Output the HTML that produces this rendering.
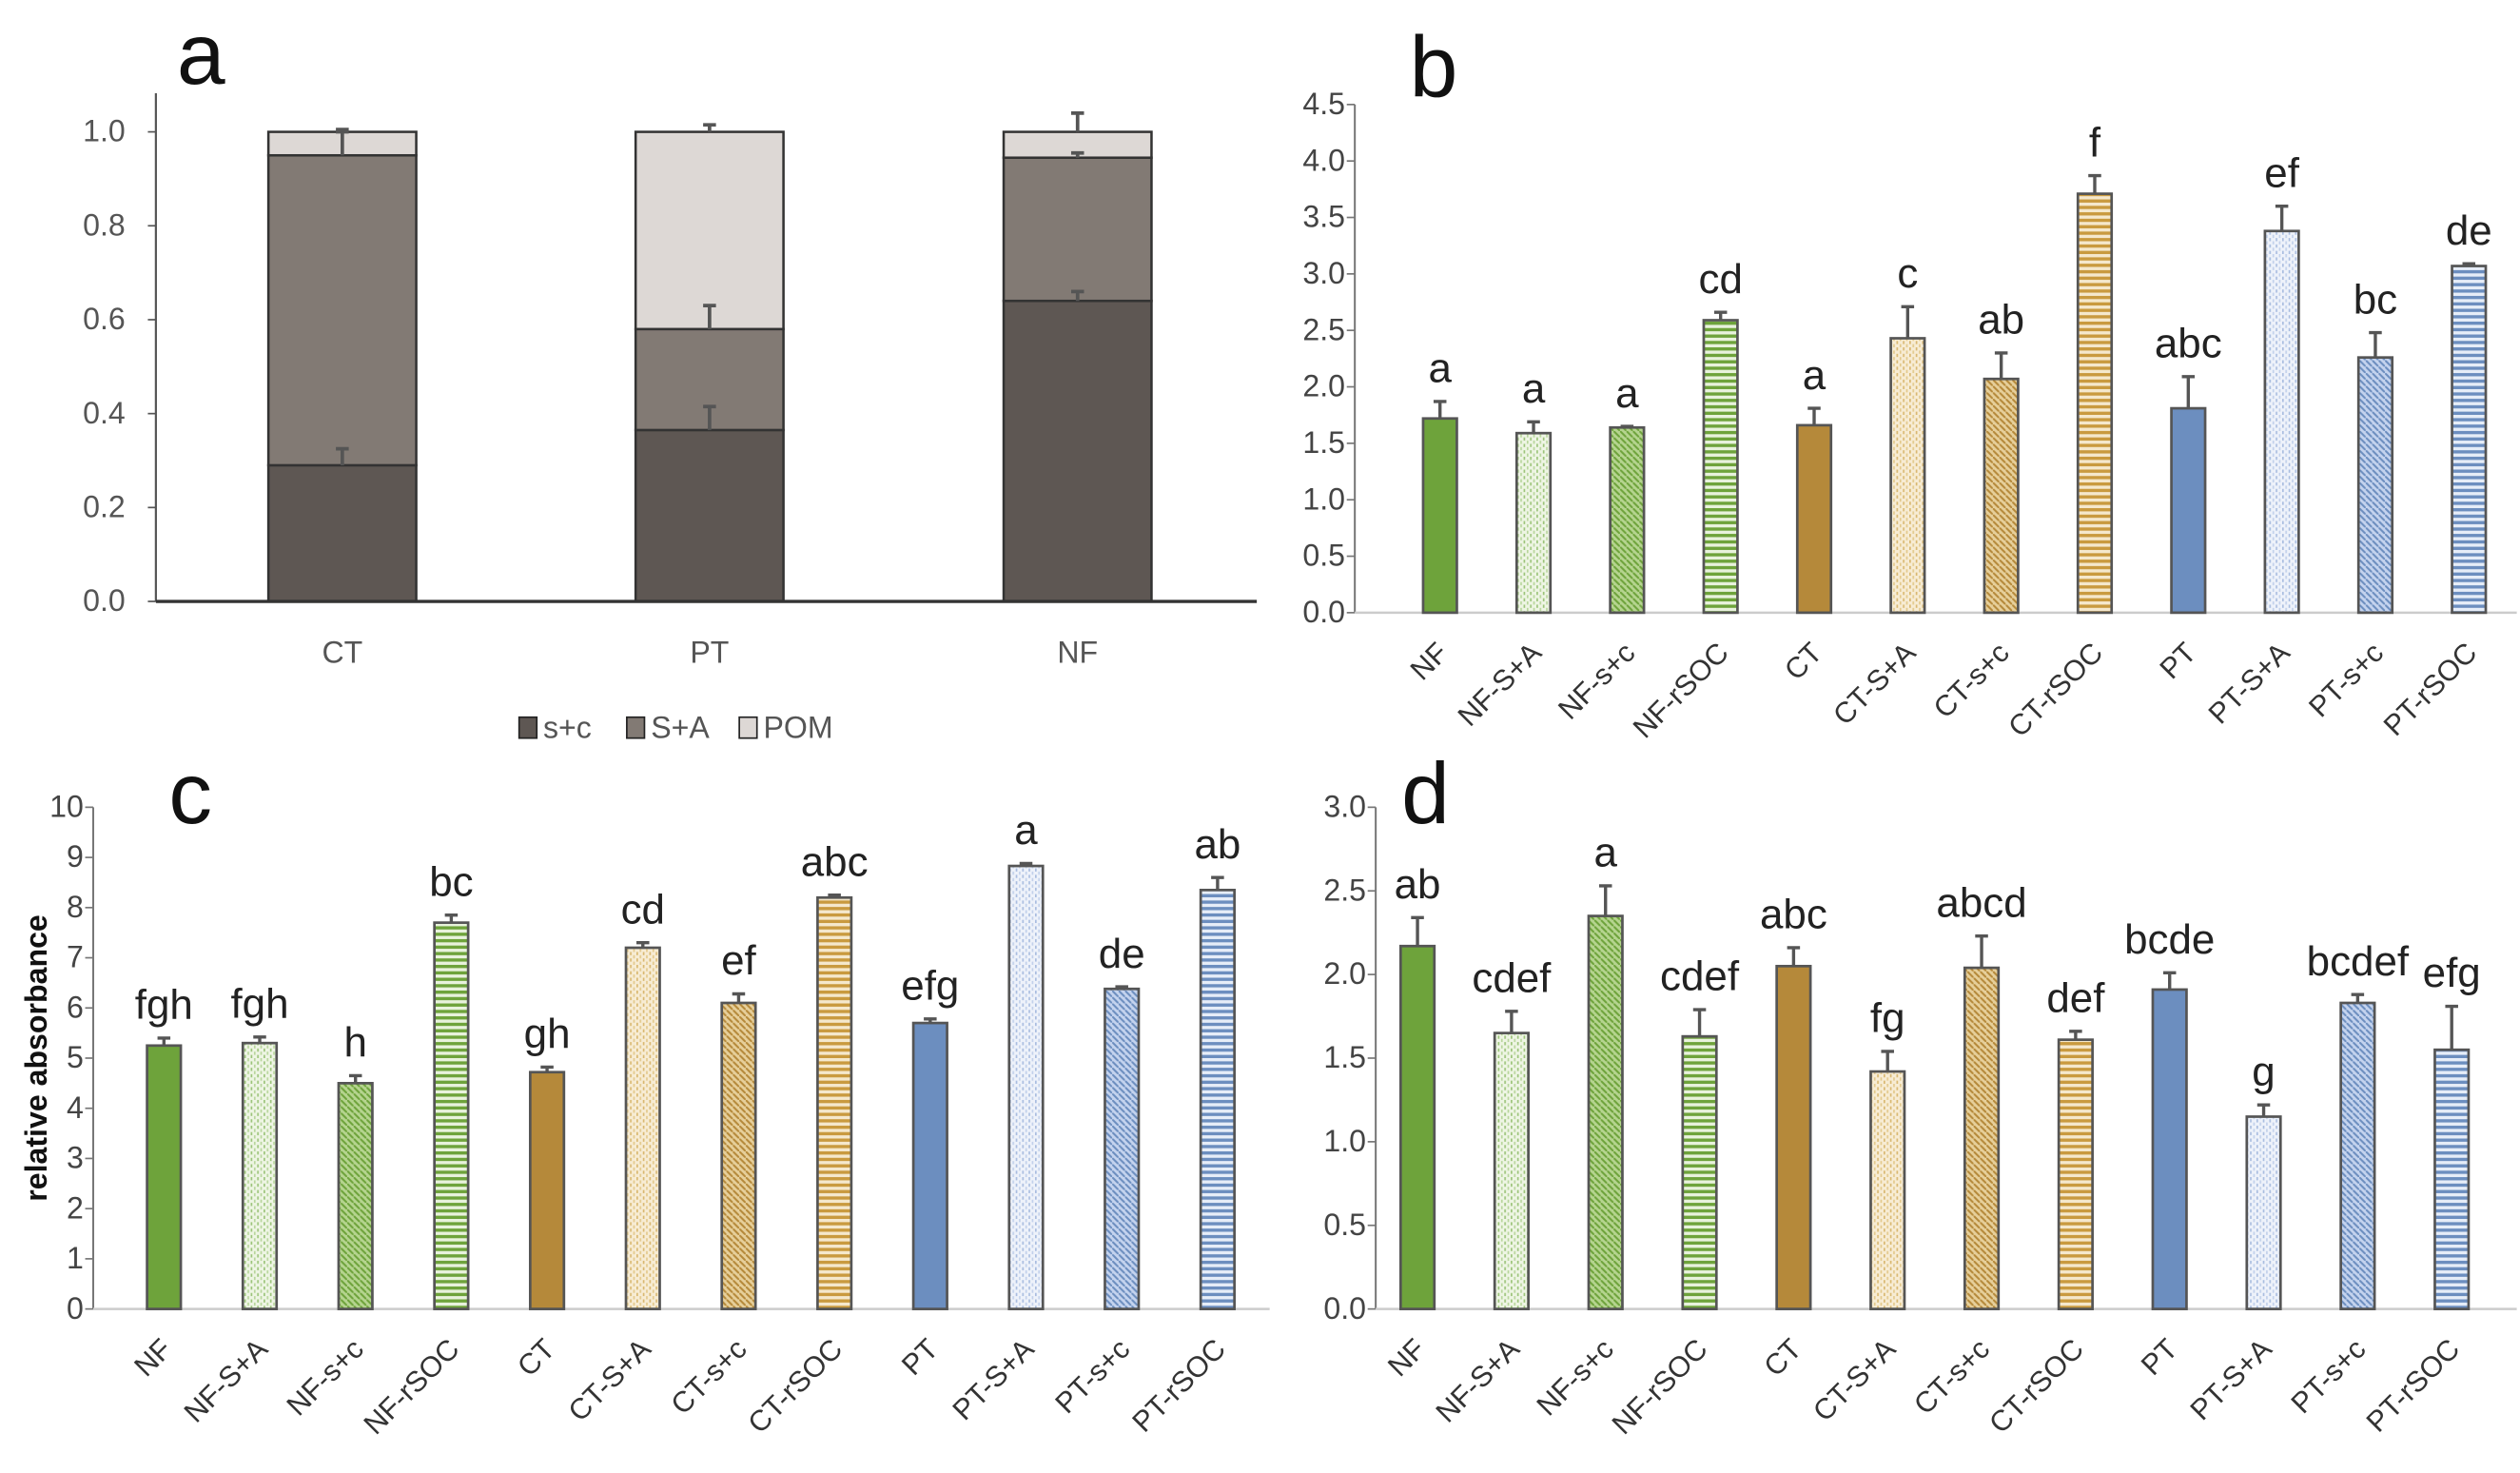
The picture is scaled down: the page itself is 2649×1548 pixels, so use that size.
<!DOCTYPE html>
<html><head><meta charset="utf-8">
<style>
html,body{margin:0;padding:0;background:#fff;}
svg{display:block;}
text{font-family:"Liberation Sans",sans-serif;}
</style></head>
<body>
<svg id="fig" width="2649" height="1548" viewBox="0 0 1568 916" preserveAspectRatio="none" xmlns="http://www.w3.org/2000/svg">
<defs>
 <pattern id="pNFsa" width="4" height="4" patternUnits="userSpaceOnUse"><rect width="4" height="4" fill="#eef5e4"/><rect x="0" y="0" width="1" height="2" fill="#9cc47a"/><rect x="2" y="2" width="1" height="2" fill="#b8d69c"/></pattern>
 <pattern id="pNFsc" width="4" height="4" patternUnits="userSpaceOnUse"><rect width="4" height="4" fill="#b5d48f"/><path d="M0 0L4 4" stroke="#6ea33b" stroke-width="1.2"/></pattern>
 <pattern id="pNFr" width="4" height="4" patternUnits="userSpaceOnUse"><rect width="4" height="4" fill="#e8f2dc"/><rect y="0" width="4" height="2" fill="#6ea33b"/></pattern>
 <pattern id="pCTsa" width="4" height="4" patternUnits="userSpaceOnUse"><rect width="4" height="4" fill="#f7ecd4"/><rect x="0" y="0" width="1" height="2" fill="#d9b871"/><rect x="2" y="2" width="1" height="2" fill="#e3c98c"/></pattern>
 <pattern id="pCTsc" width="4" height="4" patternUnits="userSpaceOnUse"><rect width="4" height="4" fill="#e6cf9a"/><path d="M0 0L4 4" stroke="#b5893a" stroke-width="1.2"/></pattern>
 <pattern id="pCTr" width="4" height="4" patternUnits="userSpaceOnUse"><rect width="4" height="4" fill="#f5e8cc"/><rect y="0" width="4" height="2" fill="#c99a3f"/></pattern>
 <pattern id="pPTsa" width="4" height="4" patternUnits="userSpaceOnUse"><rect width="4" height="4" fill="#eef2fa"/><rect x="0" y="0" width="1" height="2" fill="#a9bde0"/><rect x="2" y="2" width="1" height="2" fill="#c2d1eb"/></pattern>
 <pattern id="pPTsc" width="4" height="4" patternUnits="userSpaceOnUse"><rect width="4" height="4" fill="#c4d3ee"/><path d="M0 0L4 4" stroke="#6c8ebf" stroke-width="1.2"/></pattern>
 <pattern id="pPTr" width="4" height="4" patternUnits="userSpaceOnUse"><rect width="4" height="4" fill="#e6edf8"/><rect y="0" width="4" height="2" fill="#6c8ebf"/></pattern>
</defs>
<g id="root"></g>
</svg>
<script>
// ---- Panel a data ----
const aCats = ["CT","PT","NF"];
const aSC = [0.29, 0.365, 0.64];
const aSA = [0.66, 0.215, 0.305];
const aPOM = [0.05, 0.42, 0.055];
const aErrSC = [0.035, 0.05, 0.02];
const aErrSA = [0.05, 0.05, 0.01];
const aErrPOM = [0.005, 0.015, 0.04];
const aTicks = ["0.0","0.2","0.4","0.6","0.8","1.0"];
const aLegend = ["s+c","S+A","POM"];

// ---- shared categories ----
const cats = ["NF","NF-S+A","NF-s+c","NF-rSOC","CT","CT-S+A","CT-s+c","CT-rSOC","PT","PT-S+A","PT-s+c","PT-rSOC"];

// ---- Panel b ----
const bVals = [1.72,1.59,1.64,2.59,1.66,2.43,2.07,3.71,1.81,3.38,2.26,3.07];
const bErr = [0.15,0.10,0.01,0.07,0.15,0.28,0.23,0.16,0.28,0.22,0.22,0.02];
const bLetters = ["a","a","a","cd","a","c","ab","f","abc","ef","bc","de"];
const bTicks = ["0.0","0.5","1.0","1.5","2.0","2.5","3.0","3.5","4.0","4.5"];

// ---- Panel c ----
const cVals = [5.25,5.3,4.5,7.7,4.72,7.2,6.1,8.2,5.7,8.83,6.38,8.35];
const cErr = [0.15,0.12,0.15,0.15,0.1,0.1,0.18,0.05,0.08,0.05,0.04,0.25];
const cLetters = ["fgh","fgh","h","bc","gh","cd","ef","abc","efg","a","de","ab"];
const cTicks = ["0","1","2","3","4","5","6","7","8","9","10"];

// ---- Panel d ----
const dVals = [2.17,1.65,2.35,1.63,2.05,1.42,2.04,1.61,1.91,1.15,1.83,1.55];
const dErr = [0.17,0.13,0.18,0.16,0.11,0.12,0.19,0.05,0.10,0.07,0.05,0.26];
const dLetters = ["ab","cdef","a","cdef","abc","fg","abcd","def","bcde","g","bcdef","efg"];
const dTicks = ["0.0","0.5","1.0","1.5","2.0","2.5","3.0"];

const fills = ["#6ea33b","url(#pNFsa)","url(#pNFsc)","url(#pNFr)","#b5893a","url(#pCTsa)","url(#pCTsc)","url(#pCTr)","#6c8ebf","url(#pPTsa)","url(#pPTsc)","url(#pPTr)"];

const NS = "http://www.w3.org/2000/svg";
const root = document.getElementById("root");
function mk(tag, attrs, parent, txt){
  const e = document.createElementNS(NS, tag);
  for (const k in attrs) e.setAttribute(k, attrs[k]);
  if (txt !== undefined) e.textContent = txt;
  (parent||root).appendChild(e);
  return e;
}

// ---------- Panel a ----------
(function(){
  const g = mk("g", {});
  
  
  const x0 = 97, x1 = 782, yTop = 82, yBot = 374, max = 1.0;
  const y = v => yBot - (v/max)*(yBot-yTop);
  const centers = [213, 441.5, 670.5], bw = 92;
  const t = mk("text", {x:110, y:52, "font-size":54, fill:"#111"}, g, "a");
  
  
  aTicks.forEach((lab,i)=>{
    const v = parseFloat(lab);
    const tl = mk("text", {x:78, y:y(v)+6, "font-size":19, fill:"#555", "text-anchor":"end"}, g, lab);
    
    
    mk("line", {x1:92, x2:97, y1:y(v), y2:y(v), stroke:"#555", "stroke-width":1}, g);
  });
  const ax = mk("line", {x1:x0, x2:x0, y1:58, y2:yBot, stroke:"#555", "stroke-width":1.3}, g);
  
  
  const cols = ["#5e5753","#827a74","#ddd8d5"];
  const errPaths = [];
  aCats.forEach((c,i)=>{
    const segs = [aSC[i], aSA[i], aPOM[i]];
    const errs = [aErrSC[i], aErrSA[i], aErrPOM[i]];
    let base = 0;
    segs.forEach((s,j)=>{
      const r = mk("rect", {x:centers[i]-bw/2, y:y(base+s), width:bw, height:y(base)-y(base+s), fill:cols[j], stroke:"#333", "stroke-width":1.5}, g);
      
      
      base += s;
      errPaths.push(`M${centers[i]} ${y(base)}V${y(base+errs[j])}M${centers[i]-4} ${y(base+errs[j])}H${centers[i]+4}`);
    });
    const cl = mk("text", {x:centers[i], y:412, "font-size":19, fill:"#555", "text-anchor":"middle"}, g, c);
    
    
  });
  errPaths.forEach(d=>{
    const e = mk("path", {d:d, stroke:"#555", "stroke-width":2.2, fill:"none"}, g);
    
    
  });
  const xa = mk("line", {x1:x0, x2:x1, y1:yBot, y2:yBot, stroke:"#333", "stroke-width":2}, g);
  
  
  const lx = [323, 390, 460];
  aLegend.forEach((l,j)=>{
    const r = mk("rect", {x:lx[j], y:446, width:11, height:13, fill:cols[j], stroke:"#222", "stroke-width":1}, g);
    
    
    const lt = mk("text", {x:lx[j]+15, y:459, "font-size":19, fill:"#555"}, g, l);
    
    
  });
})();

// ---------- Generic bar panel ----------
function barPanel(opt){
  const g = mk("g", {});
  
  
  const y = v => opt.yBot - (v/opt.max)*(opt.yBot-opt.yTop);
  const bx = i => opt.c0 + i*opt.step;
  const t = mk("text", {x:opt.lx, y:opt.ly, "font-size":54, fill:"#111"}, g, opt.name);
  
  
  opt.ticks.forEach(lab=>{
    const v = parseFloat(lab);
    const tl = mk("text", {x:opt.x0-6, y:y(v)+6, "font-size":19, fill:"#444", "text-anchor":"end"}, g, lab);
    
    
    mk("line", {x1:opt.x0-5, x2:opt.x0, y1:y(v), y2:y(v), stroke:"#777", "stroke-width":1}, g);
  });
  const ax = mk("line", {x1:opt.x0, x2:opt.x0, y1:opt.yTop, y2:opt.yBot, stroke:"#777", "stroke-width":1.2}, g);
  
  
  const xa = mk("line", {x1:opt.x0, x2:opt.x1, y1:opt.yBot, y2:opt.yBot, stroke:"#ccc", "stroke-width":1.5}, g);
  
  
  const bw = 21;
  cats.forEach((c,i)=>{
    const v = opt.vals[i], e = opt.err[i], cx = bx(i);
    const r = mk("rect", {x:cx-bw/2, y:y(v), width:bw, height:opt.yBot-y(v), fill:fills[i], stroke:"#555", "stroke-width":1.6}, g);
    
    
    const eb = mk("path", {d:`M${cx} ${y(v)}V${y(v+e)}M${cx-4} ${y(v+e)}H${cx+4}`, stroke:"#555", "stroke-width":2, fill:"none"}, g);
    
    
    const lt = mk("text", {x:cx, y:y(v+e)-12, "font-size":26, fill:"#222", "text-anchor":"middle"}, g, opt.letters[i]);
    
    
    const tx = cx+6, ty = opt.yBot+26;
    const cl = mk("text", {x:tx, y:ty, "font-size":18, fill:"#333", "text-anchor":"end", transform:`rotate(-45 ${tx} ${ty})`}, g, c);
    
    
  });
  if (opt.ytitle){
    const yt = mk("text", {x:29, y:(opt.yTop+opt.yBot)/2, "font-size":19, "font-weight":"bold", fill:"#111", "text-anchor":"middle", transform:`rotate(-90 29 ${(opt.yTop+opt.yBot)/2})`}, g, opt.ytitle);
    
    
  }
}

barPanel({name:"b", vals:bVals, err:bErr, letters:bLetters, ticks:bTicks, max:4.5, x0:843, x1:1566, yTop:65, yBot:381, c0:896, step:58.2, lx:877, ly:60});
barPanel({name:"c", vals:cVals, err:cErr, letters:cLetters, ticks:cTicks, max:10, x0:58, x1:790, yTop:502, yBot:814, c0:102, step:59.6, lx:105, ly:512, ytitle:"relative absorbance"});
barPanel({name:"d", vals:dVals, err:dErr, letters:dLetters, ticks:dTicks, max:3.0, x0:856, x1:1566, yTop:502, yBot:814, c0:882, step:58.5, lx:872, ly:512});
</script>
</body></html>
